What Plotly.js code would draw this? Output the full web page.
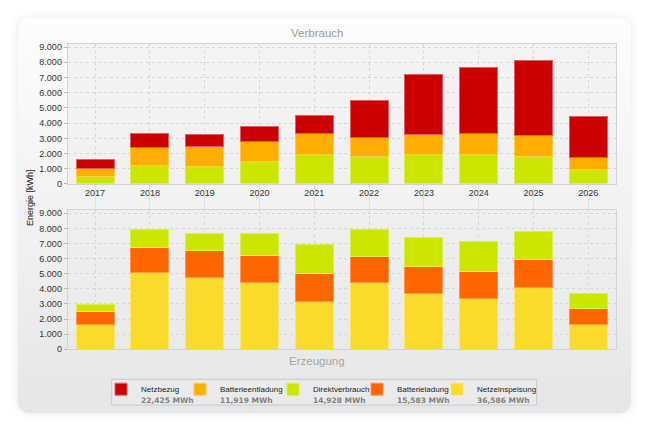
<!DOCTYPE html>
<html>
<head>
<meta charset="utf-8">
<script src="https://cdn.plot.ly/plotly-3.0.1.min.js"></script>
<style>
  html, body { margin:0; padding:0; background:#ffffff; }
  #panel { position:absolute; left:18px; top:18px; width:613px; height:395px; border-radius:11px;
           background:linear-gradient(#fdfdfd 0%, #f3f3f3 45%, #e6e6e6 100%);
           box-shadow:0 0 10px rgba(0,0,0,0.10); }
  #chart { position:absolute; left:0; top:0; width:649px; height:432px; }
</style>
</head>
<body>
<div id="panel"></div>
<div id="chart"></div>
<script>
// ---- data ----
var years = ["2017","2018","2019","2020","2021","2022","2023","2024","2025","2026"];
// Verbrauch (kWh)
var direktverbrauch   = [460, 1210, 1140, 1500, 1920, 1800, 1940, 1965, 1825, 975];
var batterieentladung = [569, 1182, 1314, 1292, 1402, 1270, 1292, 1336, 1379, 788];
var netzbezug         = [570, 942, 832, 964, 1161, 2387, 3942, 4358, 4928, 2672];
// Erzeugung (kWh)
var netzeinspeisung   = [1654, 5074, 4743, 4390, 3177, 4434, 3684, 3331, 4059, 1632];
var batterieladung    = [839, 1676, 1786, 1787, 1853, 1677, 1765, 1809, 1897, 1059];
// Legend totals
var seriesNames  = ["Netzbezug", "Batterieentladung", "Direktverbrauch", "Batterieladung", "Netzeinspeisung"];
var seriesTotals = ["22,425 MWh", "11,919 MWh", "14,928 MWh", "15,583 MWh", "36,586 MWh"];

// ---- styles ----
var colors = {
  Netzbezug: "#cc0000", Batterieentladung: "#ffae00", Direktverbrauch: "#cde600",
  Batterieladung: "#ff6600", Netzeinspeisung: "#fadb2c"
};
var lineColors = {
  Netzbezug: "#e06060", Batterieentladung: "#ffc850", Direktverbrauch: "#dcef50",
  Batterieladung: "#ff9450", Netzeinspeisung: "#fce670"
};
var legendWidths = { Netzbezug: 34, Batterieentladung: 48, Direktverbrauch: 39, Batterieladung: 35, Netzeinspeisung: 62 };

function label(name) {
  var i = seriesNames.indexOf(name);
  return name + "<br><span style='font-family:DejaVu Sans;font-weight:bold;font-size:7.5px;fill:#808080'>" +
         seriesTotals[i] + "</span>";
}
function bar(name, y, xa, ya, show) {
  return {
    type: "bar", x: years, y: y, xaxis: xa, yaxis: ya,
    name: label(name), showlegend: show, legendrank: seriesNames.indexOf(name) + 1,
    legendwidth: legendWidths[name],
    marker: { color: colors[name], line: { color: lineColors[name], width: 1 } },
    hoverinfo: "skip"
  };
}

var traces = [
  bar("Direktverbrauch", direktverbrauch, "x", "y", true),
  bar("Batterieentladung", batterieentladung, "x", "y", true),
  bar("Netzbezug", netzbezug, "x", "y", true),
  bar("Netzeinspeisung", netzeinspeisung, "x2", "y2", true),
  bar("Batterieladung", batterieladung, "x2", "y2", true),
  bar("Direktverbrauch", direktverbrauch, "x2", "y2", false)
];

var fam = "Liberation Sans, Arial, sans-serif";
var font = { family: fam, size: 9, color: "#333333" };
var gridColor = "#d4d8dc";
var frameColor = "#cfd4d9";

function yax(domain) {
  return {
    domain: domain, range: [0, 9200], dtick: 1000, tickformat: ",d",
    showgrid: true, gridcolor: gridColor, griddash: "dot", gridwidth: 1,
    showline: true, mirror: true, linecolor: frameColor, linewidth: 1,
    zeroline: false, ticks: "outside", ticklen: 3, tickcolor: "#bbbbbb",
    tickfont: font, fixedrange: true
  };
}
var xaxisTop = {
  domain: [0.1043, 0.9487], anchor: "y", type: "category",
  showgrid: true, gridcolor: gridColor, griddash: "dot", gridwidth: 1,
  showline: true, mirror: true, linecolor: frameColor, linewidth: 1,
  showticklabels: true, ticks: "", tickfont: font, fixedrange: true
};
var xaxisBottom = {
  domain: [0.1043, 0.9487], anchor: "y2", type: "category", side: "top",
  showgrid: true, gridcolor: gridColor, griddash: "dot", gridwidth: 1,
  showline: true, mirror: true, linecolor: frameColor, linewidth: 1,
  showticklabels: false, ticks: "outside", ticklen: 26, tickwidth: 1,
  tickcolor: "rgba(205,210,215,0.55)", fixedrange: true
};

var layout = {
  width: 649, height: 432,
  margin: { l: 0, r: 0, t: 0, b: 0 },
  paper_bgcolor: "rgba(0,0,0,0)",
  plot_bgcolor: "rgba(236,236,236,0.45)",
  separators: ",.",
  barmode: "stack",
  bargap: 0.31,
  showlegend: true,
  xaxis: xaxisTop,
  yaxis: yax([0.5741, 0.8981]),
  xaxis2: xaxisBottom,
  yaxis2: yax([0.1914, 0.5132]),
  legend: {
    orientation: "h", x: 101/649, xanchor: "left", y: 1 - 377.5/432, yanchor: "top",
    traceorder: "normal", bgcolor: "rgba(0,0,0,0)", borderwidth: 0,
    valign: "top",
    font: { family: fam, size: 8, color: "#222222" },
    itemwidth: 30, itemclick: false, itemdoubleclick: false
  },
  shapes: [
    { type: "rect", xref: "paper", yref: "paper", layer: "below",
      x0: 111.7/649, x1: 536.7/649, y0: 1 - 405/432, y1: 1 - 379.3/432,
      fillcolor: "rgba(236,236,236,0.6)", line: { color: "#c3cad1", width: 1 } }
  ],
  annotations: [
    { text: "Verbrauch", xref: "paper", yref: "paper", x: 0.489, y: 1 - 33/432,
      xanchor: "center", yanchor: "middle",
      showarrow: false, font: { family: fam, size: 11.5, color: "#999999" } },
    { text: "Erzeugung", xref: "paper", yref: "paper", x: 0.489, y: 1 - 361/432,
      xanchor: "center", yanchor: "middle",
      showarrow: false, font: { family: fam, size: 11.5, color: "#a6a6a6" } },
    { text: "Energie [kWh]", xref: "paper", yref: "paper", x: 30/649, y: 1 - 198/432,
      xanchor: "center", yanchor: "middle",
      textangle: -90, showarrow: false, font: { family: fam, size: 9, color: "#222222" } }
  ]
};

Plotly.newPlot("chart", traces, layout, { staticPlot: true, displayModeBar: false });
</script>
</body>
</html>
